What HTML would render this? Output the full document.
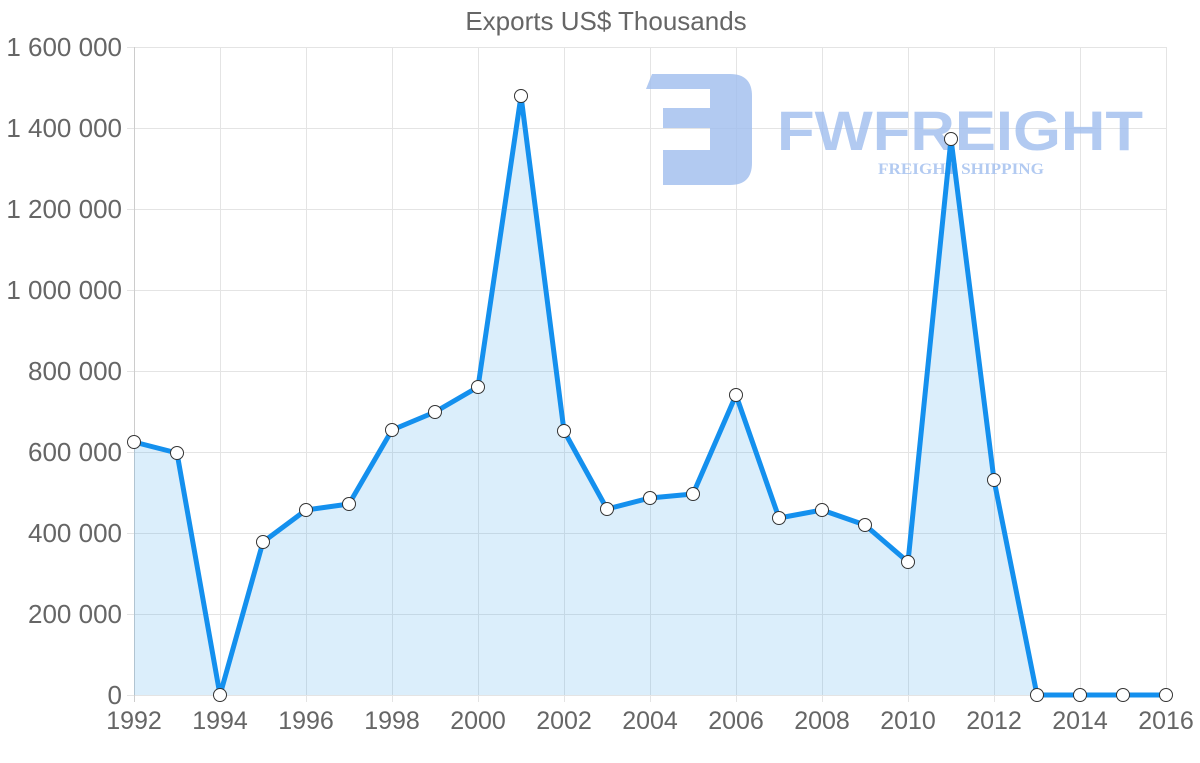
<!DOCTYPE html>
<html><head><meta charset="utf-8"><style>
html,body{margin:0;padding:0;background:#fff;}
svg{display:block;font-family:"Liberation Sans",sans-serif;}
</style></head><body>
<svg width="1200" height="763" viewBox="0 0 1200 763" xmlns="http://www.w3.org/2000/svg">
<text x="606" y="30" text-anchor="middle" font-size="26" fill="#666">Exports US$ Thousands</text>
<g stroke="#e4e4e4" stroke-width="1">
<line x1="127" y1="47.5" x2="1167" y2="47.5"/>
<line x1="127" y1="128.5" x2="1167" y2="128.5"/>
<line x1="127" y1="209.5" x2="1167" y2="209.5"/>
<line x1="127" y1="290.5" x2="1167" y2="290.5"/>
<line x1="127" y1="371.5" x2="1167" y2="371.5"/>
<line x1="127" y1="452.5" x2="1167" y2="452.5"/>
<line x1="127" y1="533.5" x2="1167" y2="533.5"/>
<line x1="127" y1="614.5" x2="1167" y2="614.5"/>
<line x1="127" y1="695.5" x2="1167" y2="695.5"/>
<line x1="220.5" y1="47" x2="220.5" y2="702"/>
<line x1="306.5" y1="47" x2="306.5" y2="702"/>
<line x1="392.5" y1="47" x2="392.5" y2="702"/>
<line x1="478.5" y1="47" x2="478.5" y2="702"/>
<line x1="564.5" y1="47" x2="564.5" y2="702"/>
<line x1="650.5" y1="47" x2="650.5" y2="702"/>
<line x1="736.5" y1="47" x2="736.5" y2="702"/>
<line x1="822.5" y1="47" x2="822.5" y2="702"/>
<line x1="908.5" y1="47" x2="908.5" y2="702"/>
<line x1="994.5" y1="47" x2="994.5" y2="702"/>
<line x1="1080.5" y1="47" x2="1080.5" y2="702"/>
<line x1="1166.5" y1="47" x2="1166.5" y2="702"/>
</g>
<line x1="134.5" y1="47" x2="134.5" y2="702" stroke="#ccc"/>
<g font-size="26" fill="#666" text-anchor="end">
<text x="122" y="56">1 600 000</text>
<text x="122" y="137">1 400 000</text>
<text x="122" y="218">1 200 000</text>
<text x="122" y="299">1 000 000</text>
<text x="122" y="380">800 000</text>
<text x="122" y="461">600 000</text>
<text x="122" y="542">400 000</text>
<text x="122" y="623">200 000</text>
<text x="122" y="704">0</text>
</g>
<g font-size="25" fill="#666" text-anchor="middle">
<text x="134" y="729">1992</text><text x="220" y="729">1994</text><text x="306" y="729">1996</text>
<text x="392" y="729">1998</text><text x="478" y="729">2000</text><text x="564" y="729">2002</text>
<text x="650" y="729">2004</text><text x="736" y="729">2006</text><text x="822" y="729">2008</text>
<text x="908" y="729">2010</text><text x="994" y="729">2012</text><text x="1080" y="729">2014</text>
<text x="1166" y="729">2016</text>
</g>
<!-- logo -->
<g fill="#9fbdee" opacity="0.8">
<path d="M652 74 H730 Q752 74 752 96 V163 Q752 185 730 185 H663 V150 H710 V128 H663 V108 H710 V89 H646 Z"/>
<text x="960" y="150" text-anchor="middle" font-size="56" font-weight="bold" textLength="366" lengthAdjust="spacingAndGlyphs">FWFREIGHT</text>
<text x="961" y="174" text-anchor="middle" font-family="Liberation Serif,serif" font-size="16" font-weight="bold" textLength="166" lengthAdjust="spacingAndGlyphs">FREIGHT SHIPPING</text>
</g>
<path d="M134,442 L177,453 L220,695 L263,542 L306,510 L349,504 L392,430 L435,412 L478,387 L521,96 L564,431 L607,509 L650,498 L693,494 L736,395 L779,518 L822,510 L865,525 L908,562 L951,139 L994,480 L1037,695 L1080,695 L1123,695 L1166,695 L1166,695 L134,695 Z" fill="rgba(54,162,235,0.18)"/>
<polyline points="134,442 177,453 220,695 263,542 306,510 349,504 392,430 435,412 478,387 521,96 564,431 607,509 650,498 693,494 736,395 779,518 822,510 865,525 908,562 951,139 994,480 1037,695 1080,695 1123,695 1166,695" fill="none" stroke="#1490ee" stroke-width="5" stroke-linejoin="round"/>
<g fill="#fff" stroke="#333" stroke-width="1">
<circle cx="134" cy="442" r="6.5"/><circle cx="177" cy="453" r="6.5"/><circle cx="220" cy="695" r="6.5"/>
<circle cx="263" cy="542" r="6.5"/><circle cx="306" cy="510" r="6.5"/><circle cx="349" cy="504" r="6.5"/>
<circle cx="392" cy="430" r="6.5"/><circle cx="435" cy="412" r="6.5"/><circle cx="478" cy="387" r="6.5"/>
<circle cx="521" cy="96" r="6.5"/><circle cx="564" cy="431" r="6.5"/><circle cx="607" cy="509" r="6.5"/>
<circle cx="650" cy="498" r="6.5"/><circle cx="693" cy="494" r="6.5"/><circle cx="736" cy="395" r="6.5"/>
<circle cx="779" cy="518" r="6.5"/><circle cx="822" cy="510" r="6.5"/><circle cx="865" cy="525" r="6.5"/>
<circle cx="908" cy="562" r="6.5"/><circle cx="951" cy="139" r="6.5"/><circle cx="994" cy="480" r="6.5"/>
<circle cx="1037" cy="695" r="6.5"/><circle cx="1080" cy="695" r="6.5"/><circle cx="1123" cy="695" r="6.5"/>
<circle cx="1166" cy="695" r="6.5"/>
</g>
</svg>
</body></html>
